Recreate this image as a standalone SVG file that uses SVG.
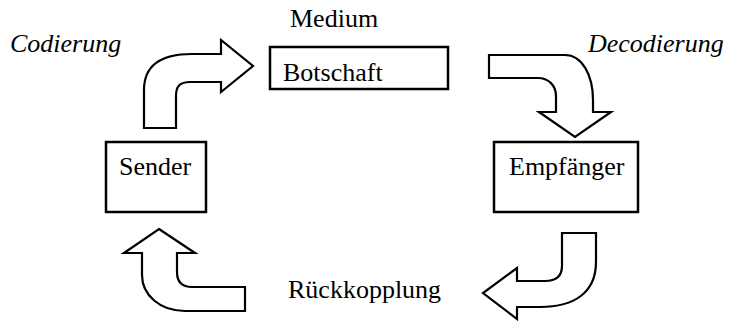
<svg xmlns="http://www.w3.org/2000/svg" width="730" height="321" viewBox="0 0 730 321">
<style>
.t{font-family:"Liberation Serif","Times New Roman",serif;font-size:26px;fill:#000}
.i{font-style:italic}
.box{fill:#fff;stroke:#000;stroke-width:2.5}
.arr{fill:#fff;stroke:#000;stroke-width:2.2;stroke-linejoin:miter}
</style>
<rect width="730" height="321" fill="#fff"/>
<g id="medium"><text class="t" x="290" y="27">Medium</text></g>
<g id="botschaft"><rect class="box" x="270" y="47" width="178" height="42"/><text class="t" x="283" y="81">Botschaft</text></g>
<g id="sender"><rect class="box" x="106" y="142" width="100" height="70"/><text class="t" x="119" y="175">Sender</text></g>
<g id="empfaenger"><rect class="box" x="494" y="142" width="144" height="70"/><text class="t" x="509" y="175">Empfänger</text></g>
<g id="labels">
<text class="t i" x="10" y="52">Codierung</text>
<text class="t i" x="588" y="52">Decodierung</text>
<text class="t" x="288" y="298">Rückkopplung</text>
</g>
<g id="connectors">
<path class="arr" d="M144,128 V90 C144,66 160,54 192,54 H221 V40 L253,66 L221,92 V82 H190 C180,82 176,86 176,96 V128 Z"/>
<path class="arr" d="M489,55 H565 C582,55 593,75 593,100 V112 H611 L575,137 L539,112 H556 V96 C556,85 548,78 538,78 H489 Z"/>
<path class="arr" d="M562,233 H596 V262 C596,292 575,307 540,307 H517 V319 L483,293 L517,268 V281 H545 C556,281 562,276 562,266 Z"/>
<path class="arr" d="M159,229 L195,253 H177 V272 C177,282 182,287 192,287 H245 V311 H185 C160,311 142,295 142,275 V253 H124 Z"/>
</g>
</svg>
